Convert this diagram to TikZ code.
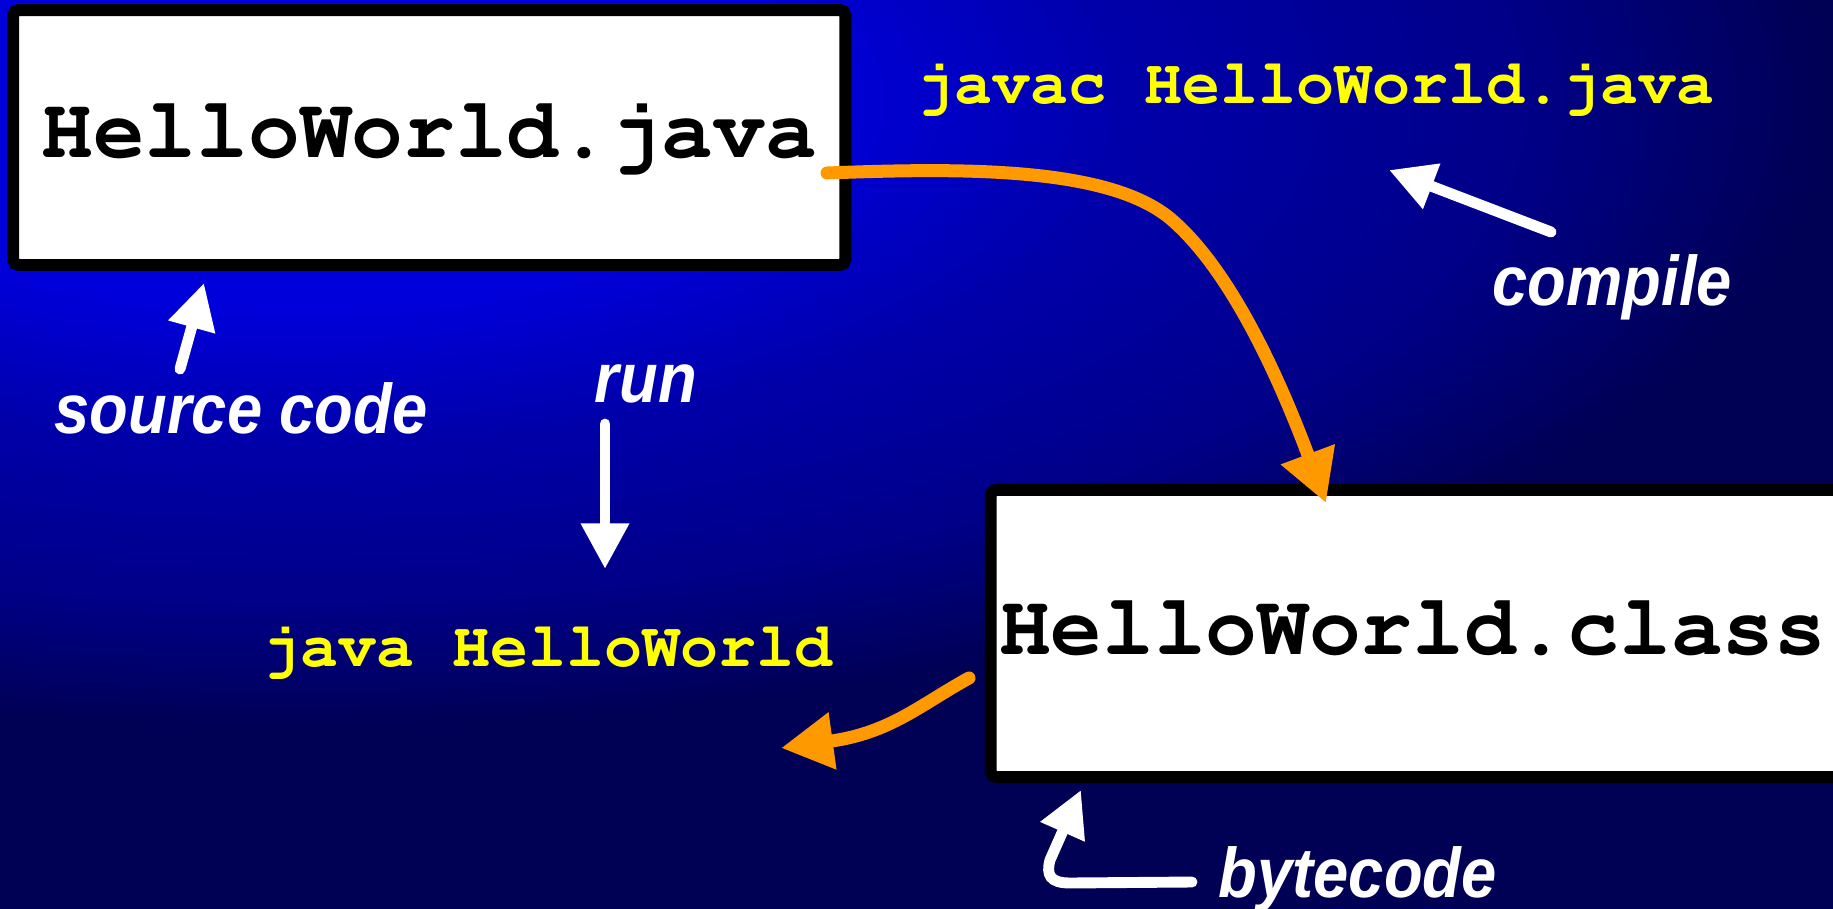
\documentclass[tikz,border=0pt]{standalone}
\usepackage[T1]{fontenc}
\usepackage{fontspec}
\usetikzlibrary{arrows.meta}
\newfontfamily\labfont[FakeStretch=0.9]{Liberation Sans}
\newcommand{\courb}[1]{\fontencoding{T1}\fontfamily{pcr}\fontseries{b}\fontshape{n}\fontsize{#1}{#1}\selectfont}
\definecolor{bgB}{RGB}{0,0,85}
\definecolor{codeyellow}{RGB}{255,255,0}
\definecolor{arroworange}{RGB}{255,153,0}
\tikzset{
  filebox/.style={draw=black, fill=white, line width=3.4pt, rounded corners=1.5pt, inner sep=0pt, align=center},
  codetext/.style={text=codeyellow, inner sep=0pt, anchor=base west},
  labtext/.style={text=white, inner sep=0pt, anchor=base west, font=\labfont\bfseries\itshape\fontsize{20pt}{20pt}\selectfont},
  whitearrow/.style={draw=white, line width=3.1pt, line cap=round, -{Triangle[length=13pt,width=13pt]}},
  orangearrow/.style={draw=arroworange, line width=3.7pt, line cap=round, -{Triangle[length=14.8pt,width=15.4pt]}}
}
\begin{document}
\begin{tikzpicture}[x=0.01cm, y=-0.01cm]
\useasboundingbox (0,0) rectangle (1833,909);
% background gradient (concentric ellipses)
\fill[bgB] (0,0) rectangle (1833,909);
\begin{scope}
\clip (0,0) rectangle (1833,909);
\foreach \k in {90,89,...,1}{
  \pgfmathsetmacro\rr{(\k-0.5)/90}
  \pgfmathtruncatemacro\bb{\rr<0.3 ? 218 : (\rr<0.49 ? 218-252.6*(\rr-0.3) : (\rr<0.72 ? 170-148*(\rr-0.49) : (\rr<0.9 ? 136-283*(\rr-0.72) : 85)))}
  \pgfmathsetmacro\ra{18.889*\k}
  \pgfmathsetmacro\rb{7.778*\k}
  \definecolor{bgtmp}{RGB}{0,0,\bb}
  \fill[bgtmp] (300,100) ellipse ({\ra} and {\rb});
}
\end{scope}
\begin{scope}
\clip (0,0) rectangle (1833,909);
% boxes
\node[filebox, minimum width=236.6pt, minimum height=72.5pt, text height=16pt, text depth=4.9pt] (src) at (429.25,137.5) {\courb{24.5pt}HelloWorld.java};
\node[filebox, minimum width=243pt, minimum height=81.65pt, text height=17pt, text depth=4.8pt] (cls) at (1418,633.5) {\courb{24.5pt}\hspace*{-3.1pt}HelloWorld.class};
\end{scope}
% code texts
\node[codetext] (javac) at (916,103) {\courb{18pt}javac HelloWorld.java};
\node[codetext] (javarun) at (262,666) {\courb{18pt}java HelloWorld};
% labels
\node[labtext] (lsrc) at (54,433) {source code};
\node[labtext] (lrun) at (594,402) {run};
\node[labtext] (lcomp) at (1492,305) {compile};
\node[labtext] (lbyte) at (1218,897) {bytecode};
% white arrows
\coordinate (srcTail) at (180,369);
\coordinate (srcTip) at (204,283);
\draw[whitearrow] (srcTail) -- (srcTip);
\coordinate (runTail) at (605,424);
\coordinate (runTip) at (605,569);
\draw[whitearrow] (runTail) -- (runTip);
\coordinate (compTail) at (1551,232);
\coordinate (compTip) at (1389,170);
\draw[whitearrow] (compTail) -- (compTip);
\coordinate (byteTail) at (1192,882);
\coordinate (byteTip) at (1081,790);
\draw[whitearrow] (byteTail) -- (1070,883) .. controls (1050,883) and (1046,875) .. (1050,860) -- (byteTip);
% orange arrows
\coordinate (compStart) at (827,173);
\coordinate (compEnd) at (1326,503);
\draw[orangearrow] (compStart) .. controls (960,168) and (1110,166) .. (1172,220) .. controls (1232,272) and (1280,380) .. (compEnd);
\coordinate (runStart) at (969,678);
\coordinate (runEnd) at (781,748);
\draw[orangearrow] (runStart) .. controls (920,705) and (890,733) .. (runEnd);
\end{tikzpicture}
\end{document}
